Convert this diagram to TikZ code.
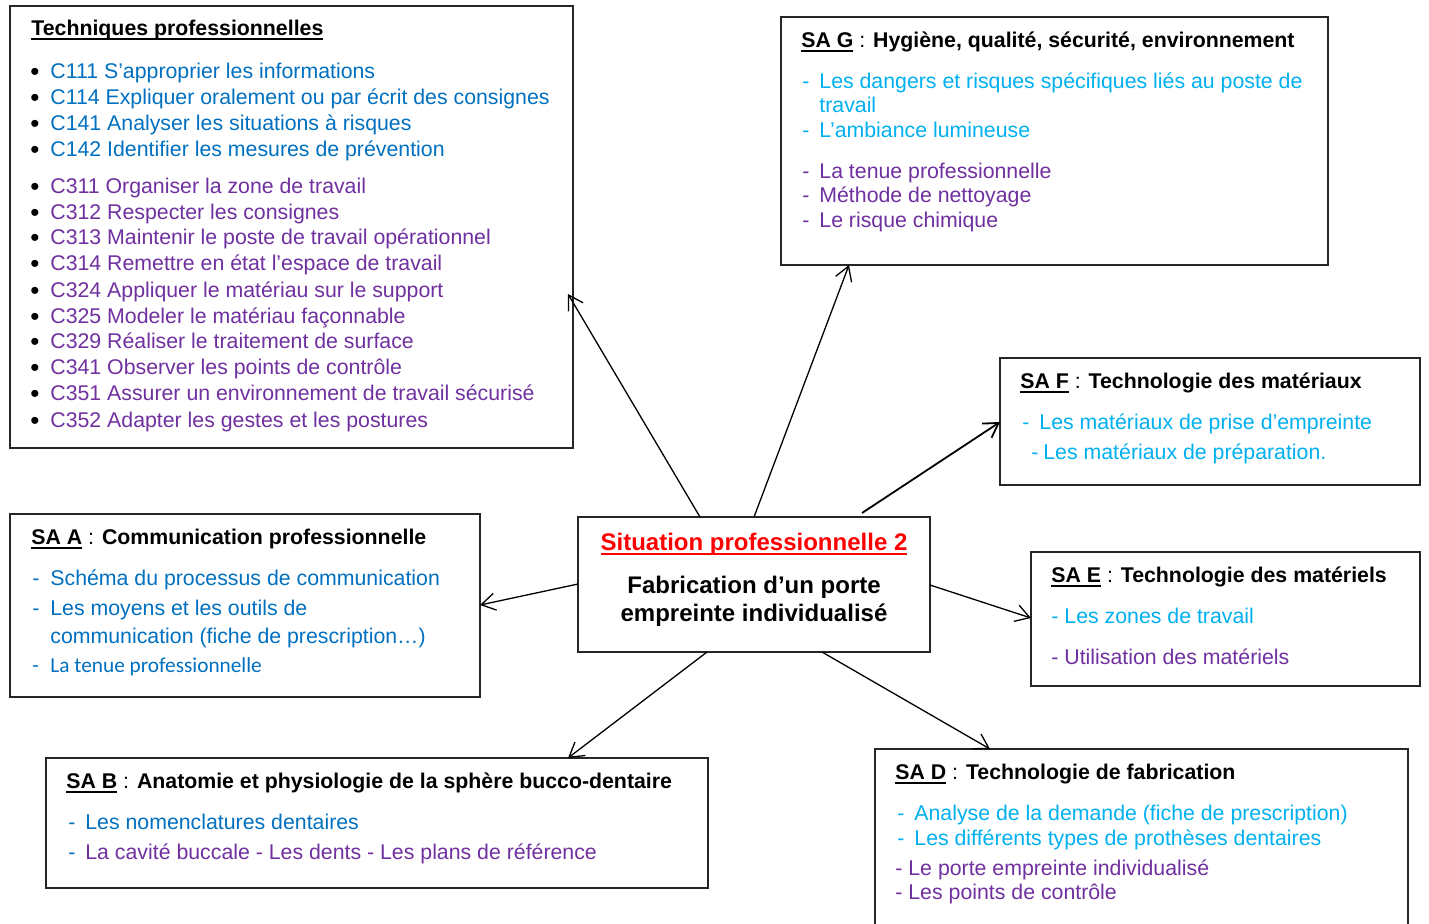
\documentclass[tikz,border=0pt]{standalone}
\usepackage{fontspec}
\setmainfont{Liberation Sans}
\newfontfamily\calib{Carlito}
\usetikzlibrary{arrows.meta,calc}
\definecolor{cblue}{HTML}{0070C0}
\definecolor{clight}{HTML}{00B0F0}
\definecolor{cpurp}{HTML}{7030A0}
\definecolor{cred}{HTML}{FF0000}
\newsavebox\ulbox
\newcommand\ulx[1]{\sbox\ulbox{#1}\rlap{\rule[-2.6pt]{\wd\ulbox}{0.9pt}}\usebox\ulbox}
\newcommand\mk[2]{\makebox[#1][l]{#2}}
\newcommand\fs{\fontsize{10.65}{12.8}\selectfont}
\newcommand\fc{\fontsize{12}{14}\selectfont\bfseries}
\newcommand\bul{\raisebox{-1.4pt}{\fontsize{13}{13}\selectfont\textcolor{black}{\textbullet}}}
\begin{document}
\begin{tikzpicture}[x=0.5pt,y=-0.5pt,
  box/.style={draw=black!85, line width=0.75pt, anchor=north west, inner sep=0pt, outer sep=0pt},
  txt/.style={anchor=base west, inner sep=0pt, font=\fs},
  ctxt/.style={anchor=base, inner sep=0pt, font=\fc},
  arr/.style={-{Straight Barb[length=7pt,width=8.5pt]}, line width=0.65pt}]
\useasboundingbox (0,0) rectangle (1429,923);
\fill[white] (0,0) rectangle (1429,923);
% boxes
\node[box, minimum width=281.5pt, minimum height=221pt] (tp) at (10,6) {};
\node[box, minimum width=273.5pt, minimum height=124pt] (sag) at (781,17) {};
\node[box, minimum width=210pt, minimum height=63.5pt] (saf) at (1000,358) {};
\node[box, minimum width=235pt, minimum height=91.5pt] (saa) at (10,514) {};
\node[box, minimum width=176pt, minimum height=67.5pt] (ctr) at (578,517) {};
\node[box, minimum width=194.5pt, minimum height=67pt] (sae) at (1031,552) {};
\node[box, minimum width=331pt, minimum height=65pt] (sab) at (46,758) {};
\node[box, minimum width=266.5pt, minimum height=100pt] (sad) at (875,749) {};
% arrows
\draw[arr] ($(ctr.north west)+(122,0)$) -- ($(tp.north east)+(-5,288)$);
\draw[arr] (ctr.north) -- ($(sag.south west)+(68,0)$);
\draw[arr, line width=0.9pt] ($(ctr.north west)+(284,-4)$) -- ($(saf.north west)+(0,64)$);
\draw[arr] ($(ctr.north east)+(0,68)$) -- ($(sae.north west)+(0,66)$);
\draw[arr] ($(ctr.south west)+(244,0)$) -- ($(sad.north west)+(115,0)$);
\draw[arr] ($(ctr.south west)+(129,0)$) -- ($(sab.north east)+(-140,0)$);
\draw[arr] ($(ctr.north west)+(0,67)$) -- ($(saa.north east)+(0,91)$);
% Techniques professionnelles
\node[txt] (tp0) at (31,35) {\ulx{\bfseries Techniques professionnelles}};
\foreach \yy/\clr/\lbl [count=\i] in {
  78/cblue/{C111 S’approprier les informations},
  104/cblue/{C114 Expliquer oralement ou par écrit des consignes},
  130/cblue/{C141 Analyser les situations à risques},
  156/cblue/{C142 Identifier les mesures de prévention},
  193/cpurp/{C311 Organiser la zone de travail},
  219/cpurp/{C312 Respecter les consignes},
  244/cpurp/{C313 Maintenir le poste de travail opérationnel},
  270/cpurp/{C314 Remettre en état l’espace de travail},
  297/cpurp/{C324 Appliquer le matériau sur le support},
  323/cpurp/{C325 Modeler le matériau façonnable},
  348/cpurp/{C329 Réaliser le traitement de surface},
  374/cpurp/{C341 Observer les points de contrôle},
  400/cpurp/{C351 Assurer un environnement de travail sécurisé},
  427/cpurp/{C352 Adapter les gestes et les postures}}
  \node[txt, text=\clr] (tp\i) at (30,\yy) {\mk{10pt}{\bul}\lbl};
% SA G
\node[txt] (g0) at (801,47) {\ulx{\bfseries SA G} : \textbf{Hygiène, qualité, sécurité, environnement}};
\node[txt, text=clight] (g1) at (802,88) {\mk{8.5pt}{-}Les dangers et risques spécifiques liés au poste de};
\node[txt, text=clight] (g2) at (819,112) {travail};
\node[txt, text=clight] (g3) at (802,137) {\mk{8.5pt}{-}L’ambiance lumineuse};
\node[txt, text=cpurp] (g4) at (802,178) {\mk{8.5pt}{-}La tenue professionnelle};
\node[txt, text=cpurp] (g5) at (802,202) {\mk{8.5pt}{-}Méthode de nettoyage};
\node[txt, text=cpurp] (g6) at (802,227) {\mk{8.5pt}{-}Le risque chimique};
% SA F
\node[txt] (f0) at (1020,388) {\ulx{\bfseries SA F} : \textbf{Technologie des matériaux}};
\node[txt, text=clight] (f1) at (1022,429) {\mk{8.5pt}{-}Les matériaux de prise d’empreinte};
\node[txt, text=clight] (f2) at (1031,459) {\mk{6pt}{-}Les matériaux de préparation.};
% SA A
\node[txt] (a0) at (31,544) {\ulx{\bfseries SA A} : \textbf{Communication professionnelle}};
\node[txt, text=cblue] (a1) at (32,585) {\mk{9pt}{-}Schéma du processus de communication};
\node[txt, text=cblue] (a2) at (32,615) {\mk{9pt}{-}Les moyens et les outils de};
\node[txt, text=cblue] (a3) at (50,643) {communication (fiche de prescription…)};
\node[txt, text=cblue] (a4) at (32,672) {\calib\mk{9pt}{-}La tenue professionnelle};
% centre
\node[ctxt, text=cred] (c0) at (754,550) {\ulx{Situation professionnelle 2}};
\node[ctxt] (c1) at (754,593.5) {Fabrication d’un porte};
\node[ctxt] (c2) at (754,621.5) {empreinte individualisé};
% SA E
\node[txt] (e0) at (1051,582) {\ulx{\bfseries SA E} : \textbf{Technologie des matériels}};
\node[txt, text=clight] (e1) at (1051,623) {- Les zones de travail};
\node[txt, text=cpurp] (e2) at (1051,664) {- Utilisation des matériels};
% SA B
\node[txt] (b0) at (66,788) {\ulx{\bfseries SA B} : \textbf{Anatomie et physiologie de la sphère bucco-dentaire}};
\node[txt, text=cblue] (b1) at (68,829) {\mk{8.5pt}{-}Les nomenclatures dentaires};
\node[txt, text=cpurp] (b2) at (68,859) {\mk{8.5pt}{\textcolor{cblue}{-}}La cavité buccale - Les dents - Les plans de référence};
% SA D
\node[txt] (d0) at (895,779) {\ulx{\bfseries SA D} : \textbf{Technologie de fabrication}};
\node[txt, text=clight] (d1) at (897,820) {\mk{8.5pt}{-}Analyse de la demande (fiche de prescription)};
\node[txt, text=clight] (d2) at (897,845) {\mk{8.5pt}{-}Les différents types de prothèses dentaires};
\node[txt, text=cpurp] (d3) at (895,875) {- Le porte empreinte individualisé};
\node[txt, text=cpurp] (d4) at (895,899) {- Les points de contrôle};
\end{tikzpicture}
\end{document}
